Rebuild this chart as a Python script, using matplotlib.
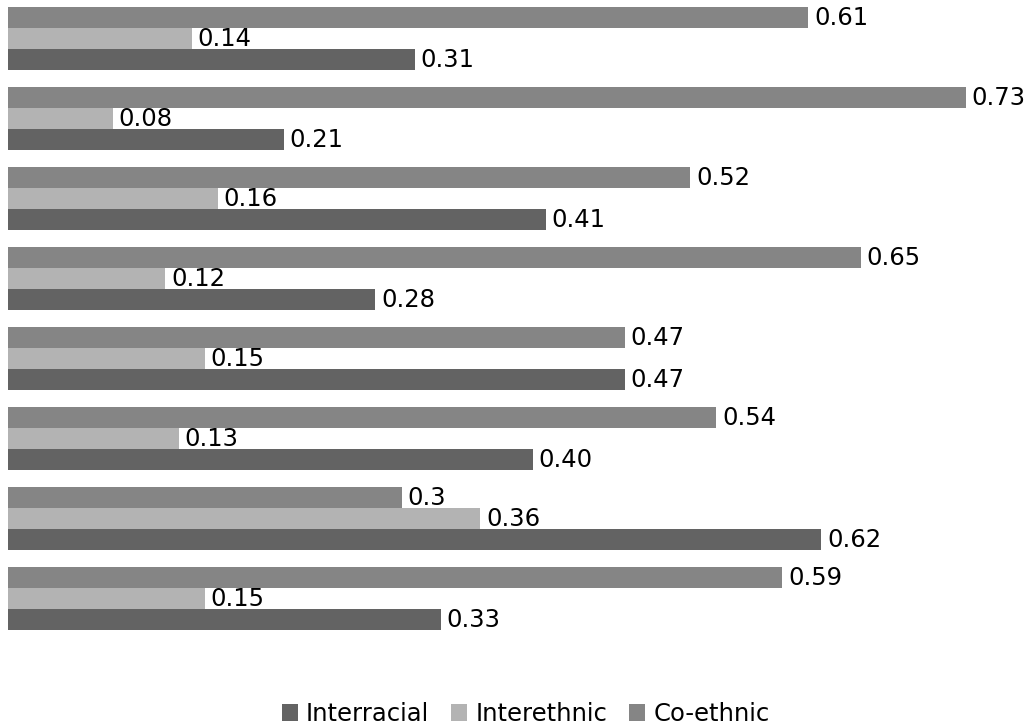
import matplotlib
matplotlib.use("Agg")
import matplotlib.pyplot as plt
import numpy as np

# one group per row, top to bottom
co_ethnic = ["0.61", "0.73", "0.52", "0.65", "0.47", "0.54", "0.3", "0.59"]
interethnic = ["0.14", "0.08", "0.16", "0.12", "0.15", "0.13", "0.36", "0.15"]
interracial = ["0.31", "0.21", "0.41", "0.28", "0.47", "0.40", "0.62", "0.33"]

series = [
    ("Co-ethnic", co_ethnic, "#858585", -1),
    ("Interethnic", interethnic, "#b3b3b3", 0),
    ("Interracial", interracial, "#636363", 1),
]

W, H = 1035, 726
FS = 17.5
fig = plt.figure(figsize=(W / 100, H / 100), dpi=100)
ax = fig.add_axes([8 / W, (H - 640) / H, 1000 / W, 640 / H])

n = len(co_ethnic)
y = np.arange(n)
bh = 0.2625
handles = {}
for name, labels, color, off in series:
    vals = [float(v) for v in labels]
    bars = ax.barh(y + off * bh, vals, height=bh, color=color, label=name)
    handles[name] = bars
    for b, lab in zip(bars, labels):
        ax.text(b.get_width() + 0.0045, b.get_y() + b.get_height() / 2 + 0.01,
                lab, ha="left", va="center", fontsize=FS, color="black")

ax.set_xlim(0, 1000 / 1312)
ax.set_ylim(-0.48125 + 8, -0.48125)
ax.axis("off")

order = ["Interracial", "Interethnic", "Co-ethnic"]
fig.legend([handles[k] for k in order], order, loc="center",
           bbox_to_anchor=(0.508, 1 - 714 / H), ncol=3, frameon=False,
           fontsize=FS, handlelength=0.65, handleheight=0.65,
           handletextpad=0.35, columnspacing=0.9)

fig.savefig("out.png", dpi=100)
